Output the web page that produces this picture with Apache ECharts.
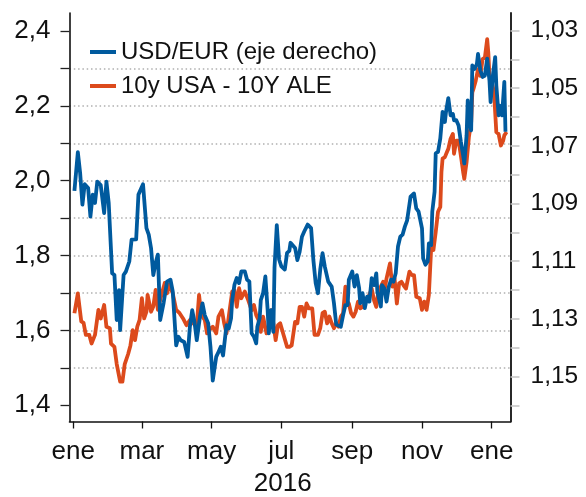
<!DOCTYPE html>
<html><head><meta charset="utf-8">
<script src="https://cdn.jsdelivr.net/npm/echarts@6/dist/echarts.min.js"></script>
<style>html,body{margin:0;padding:0;background:#fff}#c{width:586px;height:497px}</style>
</head><body><div id="c"></div>
<script>
// x values are days since 1 Jan 2016
const monthTickDays = [0, 60, 121, 182, 244, 305, 366];
const monthLabels = ['ene', 'mar', 'may', 'jul', 'sep', 'nov', 'ene'];
const yearLabel = '2016';
const seriesNames = ['USD/EUR (eje derecho)', '10y USA - 10Y ALE'];

const spreadTicks = [1.4, 1.5, 1.6, 1.7, 1.8, 1.9, 2.0, 2.1, 2.2, 2.3, 2.4];
const spreadLabelValues = [1.4, 1.6, 1.8, 2.0, 2.2, 2.4];
const rateTicks = [1.03, 1.04, 1.05, 1.06, 1.07, 1.08, 1.09, 1.10, 1.11, 1.12, 1.13, 1.14, 1.15, 1.16];
const rateLabelValues = [1.03, 1.05, 1.07, 1.09, 1.11, 1.13, 1.15];

// USD/EUR (right axis, inverted)
const usdDays = [
  1, 4, 6, 8, 10, 13, 15, 17, 19, 21,
  24, 27, 29, 31, 34, 36, 38, 40, 41, 44,
  46, 49, 51, 55, 57, 61, 64, 66, 68, 70,
  72, 74, 76, 79, 82, 85, 87, 90, 92, 94,
  97, 100, 102, 104, 106, 108, 111, 113, 115, 118,
  120, 122, 125, 127, 129, 131, 134, 136, 138, 139,
  141, 143, 145, 147, 150, 152, 154, 156, 158, 160,
  161, 163, 164, 166, 168, 170, 171, 173, 175, 176,
  178, 180, 182, 185, 187, 189, 190, 194, 196, 198,
  200, 202, 205, 208, 210, 212, 214, 216, 218, 220,
  223, 226, 228, 230, 234, 236, 238, 240, 241, 244,
  246, 248, 250, 251, 253, 255, 257, 259, 261, 263,
  265, 266, 269, 270, 272, 274, 276, 278, 280, 282,
  284, 286, 288, 290, 292, 295, 298, 300, 302, 305,
  306, 308, 310, 311, 313, 314, 316, 317, 319, 321,
  323, 325, 326, 328, 330, 332, 333, 335, 337, 339,
  341, 342, 344, 345, 346, 348, 349, 351, 353, 354,
  356, 358, 360, 362, 364, 365, 367, 369, 370, 372,
  373, 375, 377, 378
];
const usdRate = [
  1.0856, 1.0722, 1.0794, 1.0904, 1.0833, 1.0846, 1.0945, 1.0869, 1.0898, 1.0824,
  1.0836, 1.0933, 1.0824, 1.0898, 1.1142, 1.1148, 1.1304, 1.1200, 1.1339, 1.1148,
  1.1136, 1.1101, 1.1025, 1.1024, 1.0869, 1.0833, 1.0985, 1.1008, 1.1054, 1.1148,
  1.1106, 1.1077, 1.1304, 1.1245, 1.1171, 1.1164, 1.1205, 1.1392, 1.1362, 1.1374,
  1.1380, 1.1432, 1.1327, 1.1270, 1.1310, 1.1374, 1.1287, 1.1246, 1.1287, 1.1315,
  1.1397, 1.1514, 1.1432, 1.1415, 1.1397, 1.1427, 1.1322, 1.1333, 1.1298, 1.1235,
  1.1181, 1.1158, 1.1176, 1.1135, 1.1135, 1.1164, 1.1170, 1.1350, 1.1362, 1.1385,
  1.1327, 1.1298, 1.1235, 1.1211, 1.1153, 1.1270, 1.1350, 1.1270, 1.1345, 1.1123,
  1.0975, 1.1094, 1.1118, 1.1129, 1.1071, 1.1064, 1.1036, 1.1054, 1.1096, 1.1067,
  1.1015, 1.0997, 1.0973, 1.0985, 1.1096, 1.1176, 1.1211, 1.1129, 1.1072, 1.1119,
  1.1171, 1.1188, 1.1246, 1.1320, 1.1327, 1.1287, 1.1252, 1.1252, 1.1164, 1.1136,
  1.1188, 1.1148, 1.1193, 1.1246, 1.1211, 1.1263, 1.1223, 1.1240, 1.1159, 1.1183,
  1.1142, 1.1206, 1.1257, 1.1183, 1.1194, 1.1240, 1.1188, 1.1164, 1.1171, 1.1142,
  1.1049, 1.1015, 1.1008, 1.0980, 1.0958, 1.0876, 1.0865, 1.0917, 1.0928, 1.0986,
  1.1090, 1.1112, 1.1101, 1.1038, 1.1044, 1.0928, 1.0859, 1.0726, 1.0721, 1.0674,
  1.0582, 1.0617, 1.0582, 1.0534, 1.0594, 1.0589, 1.0611, 1.0611, 1.0629, 1.0686,
  1.0733, 1.0761, 1.0663, 1.0542, 1.0605, 1.0646, 1.0421, 1.0433, 1.0416, 1.0381,
  1.0438, 1.0461, 1.0456, 1.0397, 1.0473, 1.0548, 1.0456, 1.0392, 1.0490, 1.0594,
  1.0560, 1.0594, 1.0478, 1.0651
];

// 10y USA - 10Y ALE spread (left axis)
const spreadDays = [
  1, 4, 7, 9, 11, 14, 16, 19, 22, 24,
  27, 29, 32, 33, 36, 38, 41, 43, 45, 48,
  50, 52, 54, 56, 58, 60, 62, 64, 65, 68,
  70, 72, 74, 76, 80, 82, 84, 87, 90, 93,
  96, 99, 102, 105, 108, 110, 112, 115, 117, 120,
  122, 125, 127, 130, 132, 134, 136, 139, 141, 143,
  145, 147, 150, 153, 156, 158, 160, 162, 164, 166,
  169, 171, 173, 175, 177, 179, 181, 184, 187, 189,
  191, 194, 196, 198, 200, 202, 204, 206, 209, 211,
  214, 216, 218, 220, 222, 224, 226, 228, 230, 232,
  234, 236, 238, 239, 241, 243, 245, 247, 249, 251,
  253, 255, 257, 259, 261, 263, 265, 267, 269, 271,
  272, 274, 277, 279, 281, 283, 285, 287, 289, 291,
  294, 296, 298, 300, 303, 305, 307, 309, 311, 313,
  315, 317, 319, 321, 322, 323, 325, 327, 328, 330,
  332, 333, 335, 337, 339, 341, 342, 344, 346, 348,
  349, 350, 352, 354, 356, 358, 360, 362, 363, 364,
  366, 368, 370, 372, 374, 376, 377, 379
];
const spreadValues = [
  1.646, 1.699, 1.624, 1.620, 1.588, 1.588, 1.565, 1.588, 1.655, 1.632,
  1.668, 1.610, 1.606, 1.565, 1.556, 1.510, 1.463, 1.463, 1.510, 1.537,
  1.560, 1.601, 1.574, 1.610, 1.628, 1.686, 1.632, 1.650, 1.695, 1.650,
  1.664, 1.708, 1.655, 1.682, 1.727, 1.699, 1.722, 1.699, 1.655, 1.646,
  1.632, 1.614, 1.628, 1.619, 1.610, 1.695, 1.641, 1.628, 1.592, 1.605,
  1.610, 1.592, 1.637, 1.654, 1.619, 1.592, 1.637, 1.704, 1.708, 1.663,
  1.713, 1.686, 1.704, 1.681, 1.654, 1.668, 1.641, 1.628, 1.596, 1.637,
  1.592, 1.605, 1.654, 1.619, 1.574, 1.614, 1.619, 1.587, 1.556, 1.556,
  1.560, 1.623, 1.619, 1.663, 1.663, 1.637, 1.672, 1.659, 1.659, 1.588,
  1.588, 1.606, 1.646, 1.650, 1.619, 1.637, 1.619, 1.606, 1.619, 1.610,
  1.637, 1.646, 1.717, 1.681, 1.672, 1.646, 1.637, 1.650, 1.677, 1.659,
  1.663, 1.672, 1.686, 1.695, 1.712, 1.681, 1.663, 1.708, 1.717, 1.730,
  1.703, 1.739, 1.779, 1.717, 1.739, 1.672, 1.726, 1.730, 1.720, 1.712,
  1.757, 1.748, 1.748, 1.690, 1.686, 1.655, 1.677, 1.655, 1.695, 1.819,
  1.815, 1.863, 1.917, 1.930, 2.023, 2.059, 2.063, 2.078, 2.085, 2.112,
  2.125, 2.072, 2.107, 2.107, 2.067, 2.023, 2.005, 2.050, 2.116, 2.156,
  2.236, 2.245, 2.267, 2.298, 2.280, 2.325, 2.329, 2.378, 2.342, 2.280,
  2.263, 2.236, 2.130, 2.125, 2.094, 2.107, 2.121, 2.130
];

const BLUE = '#005a9e';
const ORANGE = '#dc4a1c';
const FONT = '"Liberation Sans", Arial, sans-serif';
const TXT = '#111111';

const chart = echarts.init(document.getElementById('c'), null, {renderer: 'canvas'});
chart.setOption({
  animation: false,
  backgroundColor: '#ffffff',
  grid: {left: 69.5, right: 75.5, top: 13, bottom: 75.5, containLabel: false, outerBoundsMode: 'none'},
  legend: {
    left: 85, top: 35, orient: 'vertical', icon: 'rect',
    itemWidth: 26, itemHeight: 4, itemGap: 10,
    textStyle: {fontFamily: FONT, fontSize: 24, color: TXT},
    data: [seriesNames[0], seriesNames[1]]
  },
  xAxis: {
    type: 'value', min: -3.3, max: 382.4,
    axisLine: {show: true, onZero: false, lineStyle: {color: TXT, width: 1.6}},
    axisTick: {show: true, customValues: monthTickDays, length: 7, lineStyle: {color: TXT, width: 1.3}},
    axisLabel: {
      customValues: monthTickDays, margin: 17,
      formatter: v => monthLabels[monthTickDays.indexOf(v)] || '',
      fontFamily: FONT, fontSize: 26, color: TXT
    },
    splitLine: {show: false},
    name: yearLabel, nameLocation: 'middle', nameGap: 49,
    nameTextStyle: {fontFamily: FONT, fontSize: 26, color: TXT, padding: [0, 14.6, 0, 0]}
  },
  yAxis: [
    {
      type: 'value', min: 1.3567, max: 2.448, splitNumber: 10,
      axisLine: {show: true, onZero: false, lineStyle: {color: TXT, width: 1.6}},
      axisTick: {show: true, customValues: spreadTicks, length: 9, lineStyle: {color: '#222', width: 1.3}},
      axisLabel: {
        customValues: spreadLabelValues, margin: 19,
        formatter: v => v.toFixed(1).replace('.', ','),
        fontFamily: FONT, fontSize: 26, color: TXT
      },
      splitLine: {show: true, showMinLine: false, showMaxLine: false,
        lineStyle: {color: '#b0b0b0', width: 1.5, type: [1.5, 2.8]}}
    },
    {
      type: 'value', position: 'right', inverse: true, min: 1.0239, max: 1.1656, splitNumber: 14,
      axisLine: {show: true, onZero: false, lineStyle: {color: TXT, width: 1.8}},
      axisTick: {show: true, customValues: rateTicks, length: 9, lineStyle: {color: '#c4c4c4', width: 1.5}},
      axisLabel: {
        customValues: rateLabelValues, margin: 20,
        formatter: v => v.toFixed(2).replace('.', ','),
        fontFamily: FONT, fontSize: 24.5, color: TXT
      },
      splitLine: {show: false}
    }
  ],
  series: [
    {
      name: seriesNames[1], type: 'line', yAxisIndex: 0, z: 2,
      data: spreadDays.map((d, i) => [d, spreadValues[i]]),
      symbol: 'none', showSymbol: false,
      lineStyle: {color: ORANGE, width: 3.8, join: 'round'}, itemStyle: {color: ORANGE}
    },
    {
      name: seriesNames[0], type: 'line', yAxisIndex: 1, z: 3,
      data: usdDays.map((d, i) => [d, usdRate[i]]),
      symbol: 'none', showSymbol: false,
      lineStyle: {color: BLUE, width: 3.8, join: 'round'}, itemStyle: {color: BLUE}
    }
  ]
});
</script>
</body></html>
